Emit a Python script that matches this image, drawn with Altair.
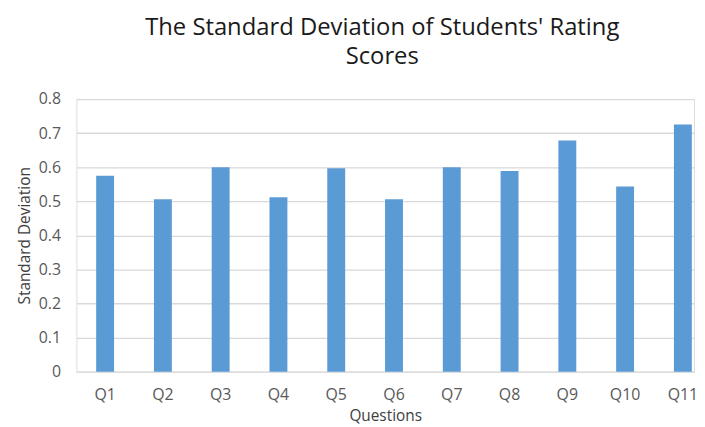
import altair as alt
import pandas as pd

questions = ["Q1", "Q2", "Q3", "Q4", "Q5", "Q6", "Q7", "Q8", "Q9", "Q10", "Q11"]
std_dev = [0.575, 0.506, 0.600, 0.512, 0.597, 0.506, 0.600, 0.589, 0.678, 0.543, 0.725]
y_ticks = [0, 0.1, 0.2, 0.3, 0.4, 0.5, 0.6, 0.7, 0.8]

df = pd.DataFrame({"Question": questions, "SD": std_dev})

FONT = "Open Sans"

chart = alt.Chart(df).mark_bar(color="#5B9BD5").encode(
    x=alt.X(
        "Question:N",
        sort=questions,
        scale=alt.Scale(paddingInner=0.69, paddingOuter=0.19, align=0.9),
        axis=alt.Axis(
            title="Questions",
            labelAngle=0,
            labelFontSize=16,
            labelColor="#595959",
            labelFont=FONT,
            labelPadding=15,
            ticks=False,
            domain=False,
            titleFont=FONT,
            titleFontSize=15.5,
            titleFontWeight="normal",
            titleColor="#404040",
            titlePadding=6,
        ),
    ),
    y=alt.Y(
        "SD:Q",
        scale=alt.Scale(domain=[0, 0.8], nice=False),
        axis=alt.Axis(
            title="Standard Deviation",
            values=y_ticks,
            format=".1~f",
            labelFontSize=16,
            labelColor="#595959",
            labelFont=FONT,
            labelPadding=16,
            ticks=False,
            domain=False,
            grid=True,
            gridColor="#D9D9D9",
            gridWidth=1.3,
            titleFont=FONT,
            titleFontSize=15.5,
            titleFontWeight="normal",
            titleColor="#404040",
            titlePadding=6,
        ),
    ),
).properties(
    width=623,
    height=275,
    title=alt.TitleParams(
        text=["The Standard Deviation of Students' Rating", "Scores"],
        font=FONT,
        fontSize=24,
        fontWeight="normal",
        color="#1a1a1a",
        anchor="middle",
        lineHeight=30,
        offset=22,
        dx=-3,
    ),
    autosize=alt.AutoSizeParams(type="none"),
    padding={"left": 69, "top": 90, "right": 3, "bottom": 56},
).configure_view(stroke=None).configure(background="white")

chart.save("out.html", embed_options={"renderer": "svg", "actions": False})
